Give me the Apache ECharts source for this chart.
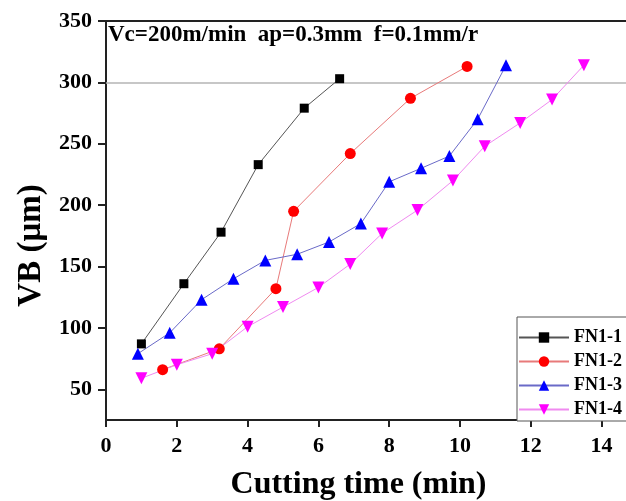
<!DOCTYPE html>
<html>
<head>
<meta charset="utf-8">
<script src="https://cdn.jsdelivr.net/npm/echarts@6/dist/echarts.min.js"></script>
<style>
  html, body { margin: 0; padding: 0; background: #fff; }
  #chart { width: 626px; height: 501px; }
</style>
</head>
<body>
<div id="chart"></div>
<script>
// Tool flank wear VB (µm) against cutting time (min) for four FN1 inserts
const seriesNames = ['FN1-1', 'FN1-2', 'FN1-3', 'FN1-4'];

const timeFN1_1 = [1.0, 2.2, 3.25, 4.3, 5.6, 6.6];
const wearFN1_1 = [87, 136, 178, 233, 279, 303];

const timeFN1_2 = [1.6, 3.2, 4.8, 5.3, 6.9, 8.6, 10.2];
const wearFN1_2 = [66, 83, 132, 195, 242, 287, 313];

const timeFN1_3 = [0.9, 1.8, 2.7, 3.6, 4.5, 5.4, 6.3, 7.2, 8.0, 8.9, 9.7, 10.5, 11.3];
const wearFN1_3 = [79, 96, 123, 140, 155, 160, 170, 185, 219, 230, 240, 270, 314];

const timeFN1_4 = [1.0, 2.0, 3.0, 4.0, 5.0, 6.0, 6.9, 7.8, 8.8, 9.8, 10.7, 11.7, 12.6, 13.5];
const wearFN1_4 = [59, 70, 79, 101, 117, 133, 152, 177, 196, 220, 248, 267, 286, 314];

const xTicks = [0, 2, 4, 6, 8, 10, 12, 14];
const yTicks = [50, 100, 150, 200, 250, 300, 350];
const wearLimit = 300;
const conditionText = 'Vc=200m/min  ap=0.3mm  f=0.1mm/r';

const pairs = (xs, ys) => xs.map((x, i) => [x, ys[i]]);

const serif = '"Liberation Serif", "DejaVu Serif", serif';

const chart = echarts.init(document.getElementById('chart'), null, { renderer: 'canvas' });

function lineSeries(name, data, symbol, size, markColor, lineColor, rotate) {
  return {
    name: name,
    type: 'line',
    data: data,
    symbol: symbol,
    symbolSize: size,
    symbolRotate: rotate || 0,
    itemStyle: { color: markColor },
    lineStyle: { color: lineColor, width: 1 },
    emphasis: { disabled: true },
    animation: false,
    z: 3
  };
}

const s1 = lineSeries(seriesNames[0], pairs(timeFN1_1, wearFN1_1), 'rect', 9, '#000000', '#555555');
s1.markLine = {
  silent: true,
  symbol: 'none',
  label: { show: false },
  lineStyle: { color: '#b4b4b4', type: 'solid', width: 1.5 },
  data: [{ yAxis: wearLimit }],
  animation: false,
  z: 1
};

const option = {
  backgroundColor: '#ffffff',
  animation: false,
  title: {
    text: conditionText,
    left: 108,
    top: 24,
    padding: 0,
    textStyle: { fontFamily: serif, fontWeight: 'bold', fontSize: 23, color: '#000' }
  },
  legend: {
    orient: 'vertical',
    left: 517,
    top: 317,
    padding: [11, 8, 2, 1],
    itemGap: 5,
    itemWidth: 50,
    itemHeight: 13,
    backgroundColor: '#ffffff',
    borderColor: '#555555',
    borderWidth: 1,
    borderRadius: 0,
    textStyle: { fontFamily: serif, fontWeight: 'bold', fontSize: 18, color: '#000', lineHeight: 19 },
    data: seriesNames
  },
  grid: { left: 106, right: -11, top: 21, bottom: 81, containLabel: false, outerBoundsMode: 'none' },
  xAxis: [{
    type: 'value',
    min: 0,
    max: 15,
    name: 'Cutting time (min)',
    nameLocation: 'middle',
    nameGap: 49,
    nameTextStyle: { fontFamily: serif, fontWeight: 'bold', fontSize: 32, color: '#000', padding: [0, 26, 0, 0] },
    axisLine: { show: true, lineStyle: { color: '#222', width: 2 } },
    axisTick: { show: true, inside: false, length: 7, customValues: xTicks, lineStyle: { color: '#222', width: 2 } },
    axisLabel: { margin: 15, customValues: xTicks, fontFamily: serif, fontWeight: 'bold', fontSize: 22, color: '#000' },
    splitLine: { show: false }
  }, {
    type: 'value',
    position: 'top',
    min: 0,
    max: 15,
    axisLine: { show: true, onZero: false, lineStyle: { color: '#222', width: 2 } },
    axisTick: { show: false },
    axisLabel: { show: false },
    splitLine: { show: false }
  }],
  yAxis: {
    type: 'value',
    min: 25,
    max: 350,
    name: 'VB (μm)',
    nameLocation: 'middle',
    nameGap: 58,
    nameTextStyle: { fontFamily: serif, fontWeight: 'bold', fontSize: 33, color: '#000', padding: [0, 50, 0, 0] },
    axisLine: { show: true, onZero: false, lineStyle: { color: '#222', width: 2 } },
    axisTick: { show: true, inside: false, length: 8, customValues: yTicks, lineStyle: { color: '#222', width: 2 } },
    axisLabel: { margin: 14, customValues: yTicks, fontFamily: serif, fontWeight: 'bold', fontSize: 22, color: '#000' },
    splitLine: { show: false }
  },
  series: [
    s1,
    lineSeries(seriesNames[1], pairs(timeFN1_2, wearFN1_2), 'circle', 11, '#ff0000', '#e87a7a'),
    lineSeries(seriesNames[2], pairs(timeFN1_3, wearFN1_3), 'triangle', 12, '#0000ff', '#6a6ac8'),
    lineSeries(seriesNames[3], pairs(timeFN1_4, wearFN1_4), 'triangle', 12, '#ff00ff', '#f08af0', 180)
  ]
};

chart.setOption(option);
</script>
</body>
</html>
